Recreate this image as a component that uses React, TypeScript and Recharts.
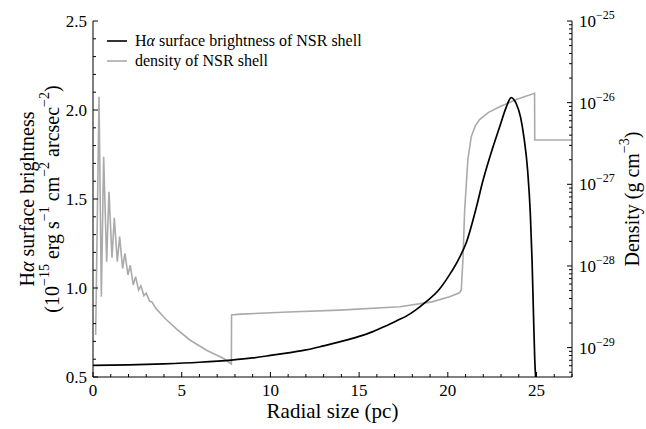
import React from 'react';
import { Legend, Line, LineChart, XAxis, YAxis } from 'recharts';

const FONT = '"Liberation Serif", "DejaVu Serif", serif';

// H-alpha surface brightness (1e-15 erg s^-1 cm^-2 arcsec^-2) vs radius (pc)
const sbRadius = [
  0, 2, 4, 6, 7.8, 9, 10, 11, 12, 13, 14, 15, 15.78, 16.5, 17.2, 17.66, 18.2, 18.78, 19.5,
  20.1, 20.6, 21.06, 21.6, 21.96, 22.54, 22.92, 23.29, 23.57, 23.86, 24.1, 24.3, 24.5, 24.65,
  24.75, 24.83, 24.9, 24.95,
];
const sbValues = [
  0.565, 0.568, 0.574, 0.583, 0.595, 0.607, 0.621, 0.636, 0.652, 0.675, 0.7, 0.728, 0.755,
  0.787, 0.82, 0.842, 0.877, 0.923, 0.99, 1.075, 1.16, 1.26, 1.45, 1.595, 1.79, 1.905, 2.015,
  2.07, 2.035, 1.96, 1.84, 1.66, 1.42, 1.15, 0.85, 0.6, 0.5,
];

// shell density (g cm^-3) vs radius (pc)
const rhoRadius = [
  0.15, 0.34, 0.47, 0.6, 0.77, 0.9, 1.07, 1.2, 1.37, 1.5, 1.67, 1.8, 1.97, 2.1, 2.27, 2.4,
  2.57, 2.7, 2.87, 3.0, 3.19, 3.32, 3.56, 4.05, 4.7, 5.46, 6.4, 7.34, 7.8, 7.81, 8.3, 11,
  13.9, 17.3, 19.1, 20.1, 20.66, 20.76, 20.85, 20.95, 21.13, 21.32, 21.55, 21.79, 22.3,
  22.92, 23.9, 24.89, 24.9, 27,
];
const rhoValues = [
  1.43e-29, 1.18e-26, 4.2e-29, 2.18e-27, 1.13e-28, 8.1e-28, 1.26e-28, 3.9e-28, 1.13e-28,
  2.29e-28, 9.3e-29, 1.43e-28, 7.76e-29, 1.02e-28, 5.85e-29, 7.4e-29, 5.07e-29, 5.7e-29,
  4.33e-29, 4.63e-29, 3.72e-29, 3.63e-29, 3.0e-29, 2.29e-29, 1.7e-29, 1.24e-29, 9.3e-30,
  7.4e-30, 6.3e-30, 2.51e-29, 2.57e-29, 2.73e-29, 2.88e-29, 3.16e-29, 3.63e-29, 4.2e-29,
  4.7e-29, 5.07e-29, 1.18e-28, 4.84e-28, 2.0e-27, 3.83e-27, 5.2e-27, 6.2e-27, 7.6e-27,
  8.9e-27, 1.1e-26, 1.3e-26, 3.49e-27, 3.49e-27,
];

const xTicks = [
  0, 1, 2, 3, 4, 5, 6, 7, 8, 9, 10, 11, 12, 13, 14, 15, 16, 17, 18, 19, 20, 21, 22, 23, 24,
  25, 26, 27,
];
const sbTicks = [
  0.5, 0.6, 0.7, 0.8, 0.9, 1.0, 1.1, 1.2, 1.3, 1.4, 1.5, 1.6, 1.7, 1.8, 1.9, 2.0, 2.1, 2.2,
  2.3, 2.4, 2.5,
];
const rhoTicks = [
  5e-30, 6e-30, 7e-30, 8e-30, 9e-30,
  1e-29, 2e-29, 3e-29, 4e-29, 5e-29, 6e-29, 7e-29, 8e-29, 9e-29,
  1e-28, 2e-28, 3e-28, 4e-28, 5e-28, 6e-28, 7e-28, 8e-28, 9e-28,
  1e-27, 2e-27, 3e-27, 4e-27, 5e-27, 6e-27, 7e-27, 8e-27, 9e-27,
  1e-26, 2e-26, 3e-26, 4e-26, 5e-26, 6e-26, 7e-26, 8e-26, 9e-26,
  1e-25,
];

const sbRows = sbRadius.map((x, i) => ({ x, sb: sbValues[i] }));
const rhoRows = rhoRadius.map((x, i) => ({ x, rho: rhoValues[i] }));

// text pieces: [text, isSuperscript]
const Pieces = ({ parts }: { parts: [string, boolean][] }) => {
  let up = false;
  return (
    <>
      {parts.map(([t, sup], i) => {
        const dy = sup && !up ? -8 : !sup && up ? 8 : 0;
        up = sup;
        return (
          <tspan key={i} dy={dy} fontSize={sup ? 14 : undefined}>
            {t}
          </tspan>
        );
      })}
    </>
  );
};

const BottomTick = (props: any) => {
  const { x, y, payload } = props;
  const major = payload.value % 5 === 0;
  return (
    <g>
      <line x1={x} x2={x} y1={y} y2={y - (major ? 5 : 3)} stroke="#000" strokeWidth={1} />
      {major && (
        <text x={x} y={y + 19} textAnchor="middle" fontSize={17} fontFamily={FONT} fill="#000">
          {payload.value}
        </text>
      )}
    </g>
  );
};

const LeftTick = (props: any) => {
  const { x, y, payload } = props;
  const v = payload.value;
  const major = Math.abs(v * 2 - Math.round(v * 2)) < 1e-6;
  return (
    <g>
      <line x1={x} x2={x + (major ? 5 : 3)} y1={y} y2={y} stroke="#000" strokeWidth={1} />
      {major && (
        <text x={x - 6} y={y + 6} textAnchor="end" fontSize={17} fontFamily={FONT} fill="#000">
          {v.toFixed(1)}
        </text>
      )}
    </g>
  );
};

const RightTick = (props: any) => {
  const { x, y, payload } = props;
  const lg = Math.log10(payload.value);
  const major = Math.abs(lg - Math.round(lg)) < 1e-6;
  return (
    <g>
      <line x1={x} x2={x - (major ? 5 : 3)} y1={y} y2={y} stroke="#000" strokeWidth={1} />
      {major && (
        <text x={x + 7} y={y + 6} fontSize={17} fontFamily={FONT} fill="#000">
          <tspan>10</tspan>
          <tspan dy={-8} fontSize={12}>{'\u2212' + Math.abs(Math.round(lg))}</tspan>
        </text>
      )}
    </g>
  );
};

const LeftLabel = (props: any) => {
  const { x, y, height } = props.viewBox;
  const cy = y + height / 2;
  const x1 = x - 6;
  const x2 = x + 19;
  return (
    <g fontFamily={FONT} fontSize={20} fill="#000">
      <text x={x1} y={cy} textAnchor="middle" dominantBaseline="central" transform={`rotate(-90 ${x1} ${cy})`}>
        <tspan>H</tspan>
        <tspan fontStyle="italic">α</tspan>
        <tspan> surface brightness</tspan>
      </text>
      <text x={x2} y={cy} textAnchor="middle" dominantBaseline="central" transform={`rotate(-90 ${x2} ${cy})`}>
        <Pieces
          parts={[
            ['(10', false],
            ['−15', true],
            [' erg s', false],
            ['−1', true],
            [' cm', false],
            ['−2', true],
            [' arcsec', false],
            ['−2', true],
            [')', false],
          ]}
        />
      </text>
    </g>
  );
};

const RightLabel = (props: any) => {
  const { x, y, height } = props.viewBox;
  const cy = y + height / 2;
  const cx = x + 60;
  return (
    <text x={cx} y={cy} textAnchor="middle" dominantBaseline="central" fontFamily={FONT} fontSize={20} fill="#000"
      transform={`rotate(-90 ${cx} ${cy})`}>
      <Pieces
        parts={[
          ['Density (g cm', false],
          ['−3', true],
          [')', false],
        ]}
      />
    </text>
  );
};

const BottomLabel = (props: any) => {
  const { x, y, width } = props.viewBox;
  return (
    <text x={x + width / 2} y={y + 41} textAnchor="middle" fontFamily={FONT} fontSize={21} fill="#000">
      Radial size (pc)
    </text>
  );
};

const renderName = (name: string) => {
  const parts = name.split('α');
  if (parts.length === 1) return name;
  return (
    <>
      {parts[0]}
      <i>α</i>
      {parts[1]}
    </>
  );
};

const LegendBox = (props: any) => {
  const order = ['sb', 'rho'];
  const items = [...(props.payload ?? [])].sort(
    (a: any, b: any) => order.indexOf(a.dataKey) - order.indexOf(b.dataKey),
  );
  return (
    <div style={{ fontFamily: FONT, fontSize: 16, color: '#000' }}>
      {items.map((it: any) => (
        <div key={it.dataKey} style={{ display: 'flex', alignItems: 'center', height: 20 }}>
          <svg width={28} height={4} style={{ flex: 'none' }}>
            <line x1={0} x2={20} y1={2} y2={2} stroke={it.color} strokeWidth={1.6} />
          </svg>
          <span style={{ whiteSpace: 'nowrap' }}>{renderName(it.value)}</span>
        </div>
      ))}
    </div>
  );
};

export default function App() {
  return (
    <div style={{ position: 'absolute', left: 0, top: 0, width: 646, height: 429, background: '#fff' }}>
      <LineChart width={646} height={429} margin={{ top: 21, right: 14, bottom: 12, left: 33 }}>
        <XAxis
          dataKey="x"
          type="number"
          domain={[0, 27]}
          ticks={xTicks}
          interval={0}
          allowDataOverflow
          height={40}
          tickSize={0}
          tickMargin={0}
          tickLine={false}
          tick={<BottomTick />}
          axisLine={{ stroke: '#000', strokeWidth: 1 }}
          label={(p: any) => <BottomLabel {...p} />}
        />
        <XAxis
          xAxisId="top"
          orientation="top"
          dataKey="x"
          type="number"
          domain={[0, 27]}
          height={0}
          tick={false}
          tickLine={false}
          axisLine={{ stroke: '#000', strokeWidth: 1 }}
        />
        <YAxis
          yAxisId="sb"
          type="number"
          domain={[0.5, 2.5]}
          ticks={sbTicks}
          interval={0}
          allowDataOverflow
          width={60}
          tickSize={0}
          tickMargin={0}
          tickLine={false}
          tick={<LeftTick />}
          axisLine={{ stroke: '#000', strokeWidth: 1 }}
          label={(p: any) => <LeftLabel {...p} />}
        />
        <YAxis
          yAxisId="rho"
          orientation="right"
          type="number"
          scale="log"
          domain={[Math.pow(10, -29.36), 1e-25]}
          ticks={rhoTicks}
          interval={0}
          allowDataOverflow
          width={60}
          tickSize={0}
          tickMargin={0}
          tickLine={false}
          tick={<RightTick />}
          axisLine={{ stroke: '#000', strokeWidth: 1 }}
          label={(p: any) => <RightLabel {...p} />}
        />
        <Legend
          layout="horizontal"
          verticalAlign="middle"
          align="center"
          wrapperStyle={{ top: 31, left: 107, width: 'auto' }}
          content={(p: any) => <LegendBox {...p} />}
        />
        <Line
          yAxisId="rho"
          data={rhoRows}
          dataKey="rho"
          name="density of NSR shell"
          type="linear"
          stroke="#aaaaaa"
          strokeWidth={1.6}
          dot={false}
          isAnimationActive={false}
        />
        <Line
          yAxisId="sb"
          data={sbRows}
          dataKey="sb"
          name="Hα surface brightness of NSR shell"
          type="monotone"
          stroke="#000000"
          strokeWidth={1.7}
          dot={false}
          isAnimationActive={false}
        />
      </LineChart>
    </div>
  );
}
